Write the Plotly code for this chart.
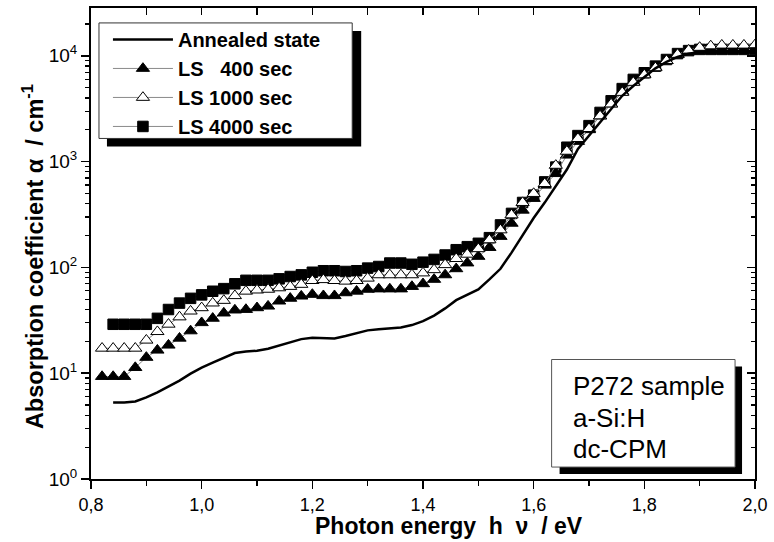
import plotly.graph_objects as go

# ---------------- data ----------------
energy_ls = [0.82, 0.84, 0.86, 0.88, 0.90, 0.92, 0.94, 0.96, 0.98, 1.00,
             1.02, 1.04, 1.06, 1.08, 1.10, 1.12, 1.14, 1.16, 1.18, 1.20,
             1.22, 1.24, 1.26, 1.28, 1.30, 1.32, 1.34, 1.36, 1.38, 1.40,
             1.42, 1.44, 1.46, 1.48, 1.50, 1.52, 1.54, 1.56, 1.58, 1.60,
             1.62, 1.64, 1.66, 1.68, 1.70, 1.72, 1.74, 1.76, 1.78, 1.80,
             1.82, 1.84, 1.86, 1.88, 1.90, 1.92, 1.94, 1.96, 1.98, 2.00]

energy_ann = [0.84, 0.86, 0.88, 0.90, 0.92, 0.94, 0.96, 0.98, 1.00,
              1.02, 1.04, 1.06, 1.08, 1.10, 1.12, 1.14, 1.16, 1.18, 1.20,
              1.22, 1.24, 1.26, 1.28, 1.30, 1.32, 1.34, 1.36, 1.38, 1.40,
              1.42, 1.44, 1.46, 1.48, 1.50, 1.52, 1.54, 1.56, 1.58, 1.60,
              1.62, 1.64, 1.66, 1.68, 1.70, 1.72, 1.74, 1.76, 1.78, 1.80,
              1.82, 1.84, 1.86, 1.88, 1.90, 1.92, 1.94, 1.96, 1.98, 2.00]

alpha_annealed = [5.3, 5.3, 5.4, 5.9, 6.6, 7.5, 8.5, 9.9, 11.3,
                  12.6, 14.1, 15.5, 16.0, 16.3, 17.0, 18.3, 19.7, 21.0, 21.6,
                  21.3, 21.3, 22.5, 24.0, 25.4, 26.0, 26.4, 27.0, 28.5, 31,
                  35, 41, 49, 55, 62, 77, 97, 138, 204, 293,
                  410, 586, 841, 1318, 1762, 2350, 3133, 4188, 5188, 6280,
                  7620, 8750, 9750, 10470, 10870, 11070, 11070, 11070, 11070, 11070]

alpha_ls400 = [9.3, 9.3, 9.3, 11.3, 14.1, 16.5, 18.4, 21.4, 25.1, 30,
               33, 37, 39.5, 40, 41.5, 43, 48, 51, 53.5, 55.5,
               54, 54, 57.5, 59.5, 62, 62.5, 62.5, 62.5, 66, 70,
               77, 85, 97, 110, 127, 154, 196, 261, 347, 448,
               598, 769, 1150, 1550, 2000, 2700, 3500, 4600, 5700, 6700,
               7800, 9000, 10300, 11100, 11400, 11500, 11500, 11500, 11500, 11500]

alpha_ls1000 = [17.2, 17.2, 17.2, 17.2, 20.5, 24.7, 29, 34, 38.6, 41.5,
                46, 48.7, 54, 59.5, 61, 62, 64, 66, 69, 75,
                76.5, 75, 74, 75, 79, 85, 85, 85, 85, 88.5,
                95, 106, 121, 133, 150, 182, 226, 313, 410, 499,
                619, 921, 1250, 1650, 2050, 2700, 3500, 4500, 5600, 6600,
                7700, 9000, 10300, 11300, 12000, 12400, 12600, 12600, 12600, 12700]

alpha_ls4000 = [29, 29, 29, 29, 33, 40, 46, 51, 55,
                59.5, 63, 70, 75.5, 75.5, 75.5, 78, 82, 85, 90,
                93, 93, 91.5, 93, 98.5, 102, 110, 110, 107, 112,
                119, 131, 147, 157, 169, 191, 252, 324, 411, 482,
                643, 888, 1368, 1762, 2188, 2917, 3757, 4900, 5985, 6918,
                7993, 9230, 10500, 11200, 11500, 11500, 11500, 11500, 11500, 11500]

x_tick_vals = [0.8, 1.0, 1.2, 1.4, 1.6, 1.8, 2.0]
x_tick_text = ["0,8", "1,0", "1,2", "1,4", "1,6", "1,8", "2,0"]
x_minor_vals = [0.9, 1.1, 1.3, 1.5, 1.7, 1.9]
y_tick_vals = [1, 10, 100, 1000, 10000]
y_tick_text = ["10<sup>0</sup>", "10<sup>1</sup>", "10<sup>2</sup>",
               "10<sup>3</sup>", "10<sup>4</sup>"]
y_minor_vals = [2, 3, 4, 5, 6, 7, 8, 9,
                20, 30, 40, 50, 60, 70, 80, 90,
                200, 300, 400, 500, 600, 700, 800, 900,
                2000, 3000, 4000, 5000, 6000, 7000, 8000, 9000, 20000]

legend_names = ["Annealed state", "LS\u00a0\u00a0\u00a0400 sec",
                "LS 1000 sec", "LS 4000 sec"]
sample_lines = ["P272 sample", "a-Si:H", "dc-CPM"]
x_title = "Photon energy\u00a0\u00a0h\u00a0\u00a0\u03bd\u00a0\u00a0/ eV"
y_title = "Absorption coefficient \u03b1\u00a0\u00a0/ cm<sup>-1</sup>"

# ---------------- geometry helpers (pixel -> paper) ----------------
L, R, T, B = 91, 757, 6, 479
W, H = 774, 542


def px(xp):
    return (xp - L) / (R - L)


def py(yp):
    return (B - yp) / (B - T)


FONT = "Liberation Sans, Arial, sans-serif"

fig = go.Figure()

fig.add_trace(go.Scatter(
    x=energy_ann, y=alpha_ls4000, name=legend_names[3], legendrank=4,
    mode="lines+markers",
    line=dict(color="#8a8a8a", width=1),
    marker=dict(symbol="square", size=10.5, color="black",
                line=dict(color="black", width=1))))

fig.add_trace(go.Scatter(
    x=energy_ls, y=alpha_ls400, name=legend_names[1], legendrank=2,
    mode="lines+markers",
    line=dict(color="#8a8a8a", width=1),
    marker=dict(symbol="triangle-up", size=11.5, color="black",
                line=dict(color="black", width=1))))

fig.add_trace(go.Scatter(
    x=energy_ls, y=alpha_ls1000, name=legend_names[2], legendrank=3,
    mode="lines+markers",
    line=dict(color="#8a8a8a", width=1),
    marker=dict(symbol="triangle-up", size=11.5, color="white",
                line=dict(color="black", width=1))))

fig.add_trace(go.Scatter(
    x=energy_ann, y=alpha_annealed, name=legend_names[0], legendrank=1,
    mode="lines", line=dict(color="black", width=2.5)))

# helper (invisible) trace so the mirrored inside-tick axes get drawn
fig.add_trace(go.Scatter(
    x=energy_ann, y=alpha_annealed, xaxis="x2", yaxis="y2",
    mode="none", showlegend=False, hoverinfo="skip"))

axis_common = dict(showgrid=False, zeroline=False, linecolor="black",
                   tickcolor="black")

annotations = [
    dict(text=txt, xref="paper", yref="paper", x=px(572), y=py(yc),
         xanchor="left", yanchor="middle", align="left", showarrow=False,
         font=dict(family=FONT, size=26, color="black"))
    for txt, yc in zip(sample_lines, [386, 418, 449])
]
annotations += [
    dict(text=x_title, xref="paper", yref="paper", x=px(450), y=py(526),
         xanchor="center", yanchor="middle", showarrow=False,
         font=dict(family=FONT, size=23, weight="bold", color="black")),
    dict(text=y_title, xref="paper", yref="paper", x=px(33), y=py(256),
         xanchor="center", yanchor="middle", textangle=-90,
         showarrow=False,
         font=dict(family=FONT, size=23.5, weight="bold", color="black")),
]

fig.update_layout(
    width=W, height=H,
    margin=dict(l=L, r=W - R, t=T, b=H - B),
    paper_bgcolor="white", plot_bgcolor="white",
    font=dict(family=FONT, color="black", size=18),
    showlegend=True,
    xaxis=dict(range=[0.8, 2.0], showline=True, linewidth=2, mirror=True,
               ticks="outside", ticklen=8, tickwidth=1.5,
               tickmode="array", tickvals=x_tick_vals, ticktext=x_tick_text,
               tickfont=dict(size=18), ticklabelstandoff=0,
               minor=dict(tickmode="array", tickvals=x_minor_vals,
                          ticks="outside", ticklen=5, tickwidth=1.5,
                          tickcolor="black"),
               **axis_common),
    yaxis=dict(type="log", range=[0, 4.452], showline=True, linewidth=2,
               mirror=True, ticks="outside", ticklen=8, tickwidth=1.5,
               tickmode="array", tickvals=y_tick_vals, ticktext=y_tick_text,
               tickfont=dict(size=19),
               minor=dict(tickmode="array", tickvals=y_minor_vals,
                          ticks="outside", ticklen=4, tickwidth=1.2,
                          tickcolor="black"),
               **axis_common),
    xaxis2=dict(range=[0.8, 2.0], overlaying="x", side="top", anchor="y2",
                showline=False, ticks="inside", ticklen=7, tickwidth=1.5,
                tickmode="array", tickvals=x_tick_vals, showticklabels=False,
                minor=dict(tickmode="array", tickvals=x_minor_vals,
                           ticks="inside", ticklen=7, tickwidth=1.5,
                           tickcolor="black"),
                **axis_common),
    yaxis2=dict(type="log", range=[0, 4.452], overlaying="y", side="right",
                anchor="x2", showline=False, ticks="inside", ticklen=8,
                tickwidth=1.5, tickmode="array", tickvals=y_tick_vals,
                showticklabels=False,
                minor=dict(tickmode="array", tickvals=y_minor_vals,
                           ticks="inside", ticklen=4, tickwidth=1.2,
                           tickcolor="black"),
                **axis_common),
    legend=dict(x=px(108), y=py(18), xanchor="left", yanchor="top",
                bgcolor="rgba(0,0,0,0)", borderwidth=0,
                font=dict(family=FONT, size=20, weight="bold"),
                itemwidth=60, tracegroupgap=0),
    shapes=[
        # legend shadow and box
        dict(type="rect", xref="paper", yref="paper", layer="above",
             x0=px(107), x1=px(362), y0=py(145), y1=py(29),
             fillcolor="black", line=dict(width=0)),
        dict(type="rect", xref="paper", yref="paper", layer="above",
             x0=px(99), x1=px(353), y0=py(137), y1=py(21),
             fillcolor="white", line=dict(color="#333333", width=1)),
        # sample box shadow and box
        dict(type="rect", xref="paper", yref="paper", layer="above",
             x0=px(561), x1=px(744), y0=py(474), y1=py(366),
             fillcolor="black", line=dict(width=0)),
        dict(type="rect", xref="paper", yref="paper", layer="above",
             x0=px(553), x1=px(737), y0=py(467), y1=py(359),
             fillcolor="white", line=dict(color="#555555", width=1)),
    ],
    annotations=annotations,
)

fig.write_html("out.html",
               config={"displayModeBar": False, "staticPlot": True},
               post_script="document.body.style.margin='0px';"
                           "document.body.style.overflow='hidden';")
